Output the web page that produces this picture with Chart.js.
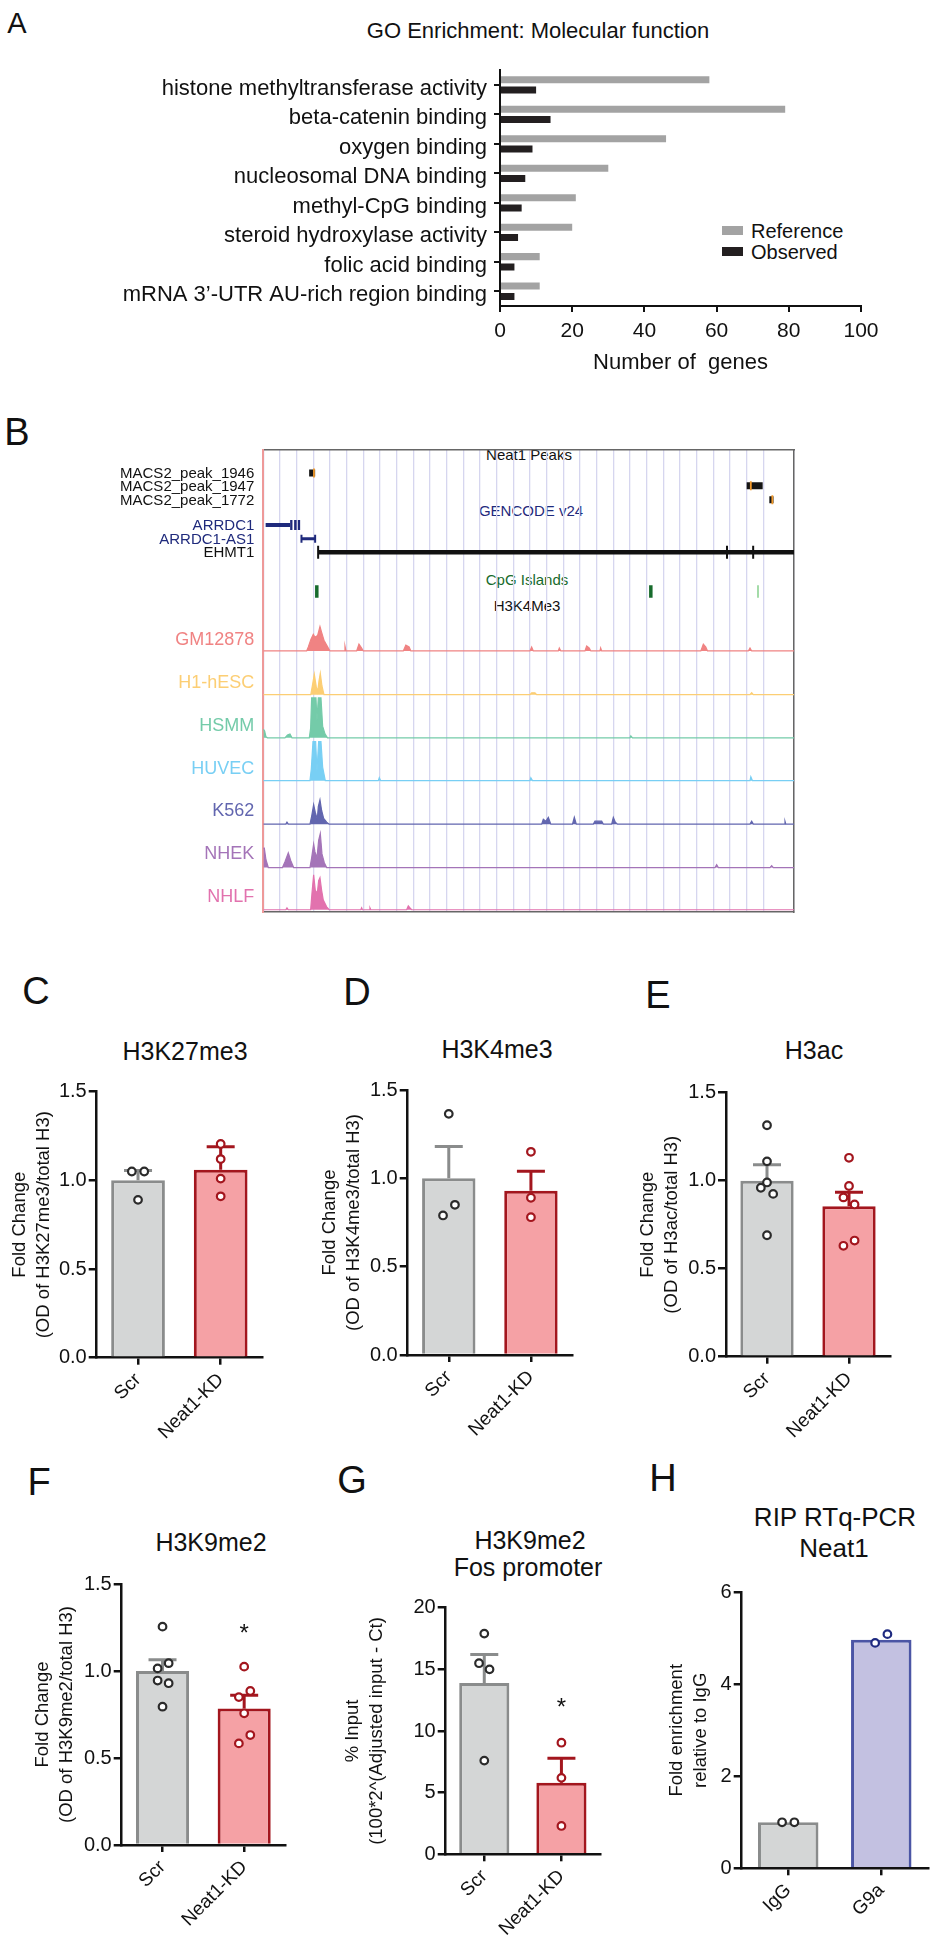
<!DOCTYPE html>
<html>
<head>
<meta charset="utf-8">
<script src="https://cdn.jsdelivr.net/npm/chart.js@4.4.1/dist/chart.umd.min.js"></script>
<style>
  body { margin: 0; background: #fff; }
  #page { position: relative; width: 934px; height: 1950px; overflow: hidden; font-family: "Liberation Sans", Arial, Helvetica, sans-serif; color: #111; }
  .t { position: absolute; white-space: nowrap; line-height: 1; }
  .sq { position: absolute; }
  canvas { position: absolute; }
</style>
</head>
<body>
<div id="page"></div>
<script>
// ---- A: GO enrichment ----
const goTerms = ["histone methyltransferase activity", "beta-catenin binding", "oxygen binding",
  "nucleosomal DNA binding", "methyl-CpG binding", "steroid hydroxylase activity",
  "folic acid binding", "mRNA 3\u2019-UTR AU-rich region binding"];
const goReference = [58, 79, 46, 30, 21, 20, 11, 11];
const goObserved = [10, 14, 9, 7, 6, 5, 4, 4];

// ---- B: genome browser (positions in grid units, 0 = left edge of view) ----
const peakNames = ["MACS2_peak_1946", "MACS2_peak_1947", "MACS2_peak_1772"];
const peakStart = [2.75, 29.0, 30.36];
const peakEnd = [3.11, 29.96, 30.61];
const peakSummit = [3.04, 29.25, 30.54];
const geneNames = ["ARRDC1", "ARRDC1-AS1", "EHMT1"];
const geneStart = [0.14, 2.29, 3.29];
const geneEnd = [1.61, 3.11, 31.84];
const arrdc1Exons = [[1.61, 1.75], [1.85, 2.0], [2.07, 2.21]];
const ehmt1Marks = [3.29, 27.82, 29.39];
const cpgIslands = [3.21, 23.25, 29.68];
const cellLines = ["GM12878", "H1-hESC", "HSMM", "HUVEC", "K562", "NHEK", "NHLF"];
// H3K4me3 signal, [position, height]
const gm12878Signal = [[0,0],[2.6,0],[2.7,4],[2.86,12],[3.0,17],[3.1,14],[3.26,16],[3.4,25],[3.5,19],[3.64,11],[3.8,6],[4.0,0],
  [4.85,0],[4.9,5],[4.96,0],[5.6,0],[5.74,7],[5.9,3],[6.0,0],[8.4,0],[8.55,6],[8.75,4],[8.85,0],[16.0,0],[16.1,4],[16.2,0],
  [17.7,0],[17.76,3],[17.85,0],[19.3,0],[19.4,5],[19.55,3],[19.65,0],[20.2,0],[20.24,3],[20.3,0],[26.25,0],[26.4,7],[26.55,4],
  [26.65,0],[29.1,0],[29.2,3],[29.3,0],[31.84,0]];
const h1hescSignal = [[0,0],[2.85,0],[2.95,10],[3.06,21],[3.18,8],[3.26,3],[3.34,14],[3.42,22],[3.52,9],[3.64,0],
  [16.0,0],[16.1,2],[16.3,2],[16.4,0],[29.2,0],[29.3,2],[29.4,0],[31.84,0]];
const hsmmSignal = [[0,9],[0.08,7],[0.16,1],[0.25,0],[1.3,0],[1.45,3],[1.6,4],[1.72,0],[2.76,0],[2.84,10],[2.9,41],[3.16,41],
  [3.22,18],[3.3,41],[3.46,41],[3.56,12],[3.7,4],[3.85,0],[22.0,0],[22.05,2],[22.15,0],[31.84,0]];
const huvecSignal = [[0,0],[2.8,0],[2.88,12],[2.98,40],[3.14,40],[3.22,10],[3.32,40],[3.46,40],[3.56,14],[3.72,0],
  [6.9,0],[6.96,3],[7.04,0],[16.0,0],[16.05,3],[16.15,0],[29.2,0],[29.25,4],[29.35,0],[31.84,0]];
const k562Signal = [[0,0],[1.35,0],[1.42,2],[1.5,0],[2.8,0],[2.9,8],[3.02,20],[3.12,12],[3.24,5],[3.3,18],[3.4,25],[3.5,14],
  [3.62,6],[3.8,2],[3.95,0],[16.7,0],[16.8,5],[16.95,3],[17.1,7],[17.25,0],[18.55,0],[18.66,7],[18.78,0],[19.8,0],[19.9,3],
  [20.3,3],[20.4,0],[20.9,0],[21.0,7],[21.12,2],[21.25,0],[29.2,0],[29.3,3],[29.4,0],[31.25,0],[31.3,3],[31.35,0],[31.84,0]];
const nhekSignal = [[0,20],[0.06,20],[0.16,8],[0.3,0],[1.15,0],[1.3,6],[1.5,15],[1.65,7],[1.82,0],[2.8,0],[2.9,10],[3.02,24],
  [3.1,16],[3.22,10],[3.32,28],[3.42,35],[3.52,14],[3.66,5],[3.8,0],[27.1,0],[27.2,3],[27.3,0],[30.4,0],[30.5,2],[30.6,0],[31.84,0]];
const nhlfSignal = [[0,0],[1.35,0],[1.42,2],[1.5,0],[2.84,0],[2.92,17],[3.02,36],[3.12,20],[3.24,17],[3.32,30],[3.4,33],[3.5,20],
  [3.6,10],[3.8,3],[3.95,0],[5.85,0],[5.9,2],[5.95,0],[6.35,0],[6.4,2],[6.45,0],[8.6,0],[8.7,4],[8.8,2],[8.9,0],[31.84,0]];

// ---- C-H: western / ChIP / RIP bar panels ----
const kdGroups = ["Scr", "Neat1-KD"];
const ripGroups = ["IgG", "G9a"];
const h3k27Mean = [1.0, 1.06], h3k27Err = [0.055, 0.13];
const h3k27Scr = [1.05, 1.05, 0.89], h3k27Kd = [1.205, 1.12, 1.01, 0.91];
const h3k4Mean = [1.0, 0.93], h3k4Err = [0.18, 0.11];
const h3k4Scr = [1.365, 0.79, 0.85], h3k4Kd = [1.15, 0.89, 0.78];
const h3acMean = [1.0, 0.855], h3acErr = [0.09, 0.08];
const h3acScr = [1.315, 1.11, 0.99, 0.96, 0.925, 0.69], h3acKd = [1.13, 0.97, 0.905, 0.865, 0.63, 0.66];
const h3k9Mean = [1.0, 0.785], h3k9Err = [0.065, 0.075];
const h3k9Scr = [1.255, 1.045, 1.015, 0.945, 0.93, 0.795], h3k9Kd = [1.025, 0.885, 0.85, 0.757, 0.632, 0.584];
const fosMean = [13.9, 5.8], fosErr = [2.3, 2.0];
const fosScr = [17.9, 15.5, 15.0, 7.6], fosKd = [9.05, 6.2, 2.3];
const ripMean = [1.0, 4.97], ripErr = [0, 0];
const ripIgg = [1.0, 1.0], ripG9a = [4.9, 5.09];

const FONT = '"Liberation Sans", Arial, Helvetica, sans-serif';
Chart.defaults.font.family = FONT;
Chart.defaults.color = "#111";
Chart.defaults.animation = false;
Chart.defaults.events = [];
Chart.defaults.plugins.legend.display = false;
Chart.defaults.plugins.tooltip.enabled = false;

const page = document.getElementById("page");

function addText(str, x, y, size, color, align) {
  const d = document.createElement("div");
  d.className = "t";
  d.textContent = str;
  d.style.left = x + "px";
  d.style.top = y + "px";
  d.style.fontSize = size + "px";
  d.style.color = color || "#111";
  const tx = align === "left" ? "0" : align === "right" ? "-100%" : "-50%";
  d.style.transform = "translate(" + tx + ", -50%)";
  page.appendChild(d);
}

function addBox(x, y, w, h, color) {
  const d = document.createElement("div");
  d.className = "sq";
  Object.assign(d.style, { left: x + "px", top: y + "px", width: w + "px", height: h + "px", background: color });
  page.appendChild(d);
}

function addCanvas(left, top, width, height) {
  const c = document.createElement("canvas");
  c.width = width; c.height = height;
  c.style.left = left + "px"; c.style.top = top + "px";
  c.style.width = width + "px"; c.style.height = height + "px";
  page.appendChild(c);
  return c;
}

// panel letters
[["A", 17, 23, 29], ["B", 17, 432, 38], ["C", 36, 991, 38], ["D", 357, 992, 38], ["E", 658, 995, 38],
 ["F", 39, 1482, 38], ["G", 352, 1480, 38], ["H", 663, 1478, 38]].forEach(l => addText(l[0], l[1], l[2], l[3]));

// ================= A =================
addText("GO Enrichment: Molecular function", 538, 31, 22);
addBox(722, 226, 21, 9, "#a3a3a3");
addBox(722, 247, 21, 9, "#231f20");
addText("Reference", 751, 231, 20, "#111", "left");
addText("Observed", 751, 252, 20, "#111", "left");

new Chart(addCanvas(0, 50, 900, 330), {
  type: "bar",
  data: {
    labels: goTerms,
    datasets: [
      { label: "Reference", data: goReference, backgroundColor: "#a3a3a3", barPercentage: 0.68, categoryPercentage: 0.7 },
      { label: "Observed", data: goObserved, backgroundColor: "#231f20", barPercentage: 0.68, categoryPercentage: 0.7 }
    ]
  },
  options: {
    indexAxis: "y",
    responsive: false,
    layout: { padding: { top: 15, right: 39, bottom: 0, left: 0 } },
    scales: {
      x: {
        min: 0, max: 100,
        ticks: { stepSize: 20, font: { size: 21 }, padding: 7 },
        grid: { drawOnChartArea: false, tickLength: 6, color: "#111", lineWidth: 2 },
        border: { color: "#111", width: 2 },
        title: { display: true, text: "Number of  genes", font: { size: 22 }, padding: { top: 0, bottom: 4 } },
        afterFit: s => { s.height = 74; }
      },
      y: {
        ticks: { font: { size: 22 }, padding: 7, autoSkip: false, labelOffset: 4 },
        grid: { drawOnChartArea: false, offset: false, tickLength: 6, color: "#111", lineWidth: 2 },
        border: { color: "#111", width: 2 },
        afterFit: s => { s.width = 500; }
      }
    }
  }
});

// ================= B =================
const cellColors = ["#f08383", "#fcce74", "#74cba9", "#78cff4", "#6266af", "#a474b8", "#e272ae"];
const trackLabels = peakNames.concat(geneNames, cellLines);
const trackLabelColors = ["#111", "#111", "#111", "#1f2a7c", "#1f2a7c", "#111"].concat(cellColors);
const trackLabelSizes = [15, 15, 15, 15, 15, 15, 18, 18, 18, 18, 18, 18, 18];
// layout rows (box-relative, top = 0)
const labelRows = [25, 38.3, 52.7, 78.3, 92.7, 106, 196, 239.3, 284.3, 327.7, 371, 415.3, 459.3];
const peakRows = [23.8, 37, 51.3];
const geneRows = [77.3, 91.3, 105.3];
const cpgRow = 145.7;
const trackBase = [206.7, 251.7, 296, 340, 384.7, 429.3, 472.7];
const cellSignals = [gm12878Signal, h1hescSignal, hsmmSignal, huvecSignal, k562Signal, nhekSignal, nhlfSignal];

const bSets = [];
function seg(x0, x1, y, color, w) {
  bSets.push({ data: [{ x: x0, y }, { x: x1, y }], showLine: true, borderColor: color, borderWidth: w,
    borderCapStyle: "butt", pointRadius: 0 });
}
function marks(xs, ys, color, r, w, order) {
  bSets.push({ data: xs.map((x, i) => ({ x, y: Array.isArray(ys) ? ys[i] : ys })), pointStyle: "line", pointRotation: 90,
    pointRadius: r, pointBorderColor: color, pointBorderWidth: w, order: order || 0 });
}
cellSignals.forEach((sig, i) => {
  bSets.push({
    data: sig.map(p => ({ x: p[0], y: trackBase[i] - p[1] })),
    showLine: true, borderColor: cellColors[i], borderWidth: 1.2, backgroundColor: cellColors[i],
    fill: { value: trackBase[i] }, pointRadius: 0
  });
});
peakStart.forEach((s, i) => seg(s, peakEnd[i], peakRows[i], "#151515", 7));
marks(peakSummit, peakRows, "#f39a2b", 4.5, 1.8, -1);
seg(geneStart[0], geneEnd[0], geneRows[0], "#1f2a7c", 4);
arrdc1Exons.forEach(e => seg(e[0], e[1], geneRows[0], "#1f2a7c", 10));
seg(geneStart[1], geneEnd[1], geneRows[1], "#1f2a7c", 3);
marks([geneStart[1], geneEnd[1]], geneRows[1], "#1f2a7c", 4, 2);
seg(geneStart[2], geneEnd[2], geneRows[2], "#111", 4.5);
marks(ehmt1Marks, geneRows[2], "#111", 6.5, 2);
marks(cpgIslands, cpgRow, ["#176b2c", "#176b2c", "#86d08c"], 6.3, [3.5, 3.5, 1.5]);

addText("Neat1 Peaks", 529, 454, 15);
addText("GENCODE v24", 531, 510, 15, "#1f2a7c");
addText("CpG Islands", 527, 579, 15, "#176b2c");
addText("H3K4Me3", 527, 605, 15);

const viewMax = 31.84;
new Chart(addCanvas(0, 430, 934, 500), {
  type: "scatter",
  data: { datasets: bSets },
  options: {
    responsive: false,
    layout: { padding: { top: 14, right: 140, bottom: 11, left: 0 } },
    scales: {
      x: {
        type: "linear", min: 0, max: viewMax,
        ticks: { display: false, stepSize: 1 },
        grid: { color: "#d6d6ef", lineWidth: 1.3, drawTicks: false },
        border: { color: "#666", width: 1.5 },
        afterFit: s => { s.height = 0; }
      },
      x2: {
        type: "linear", position: "top", min: 0, max: viewMax,
        ticks: { display: false }, grid: { display: false, drawTicks: false },
        border: { color: "#666", width: 1.5 },
        afterFit: s => { s.height = 0; }
      },
      y: {
        type: "linear", min: 0, max: 475, reverse: true,
        afterBuildTicks: s => { s.ticks = labelRows.map(v => ({ value: v })); },
        ticks: {
          autoSkip: false, padding: 9,
          callback: (v, i) => trackLabels[i],
          color: c => trackLabelColors[c.index],
          font: c => ({ family: FONT, size: trackLabelSizes[c.index] })
        },
        grid: { display: false, drawTicks: false },
        border: { color: "#ee9999", width: 2 },
        afterFit: s => { s.width = 263.3; }
      },
      y2: {
        type: "linear", position: "right", min: 0, max: 475,
        ticks: { display: false }, grid: { display: false, drawTicks: false },
        border: { color: "#666", width: 1.5 },
        afterFit: s => { s.width = 0; }
      }
    }
  }
});

// ================= C-H =================
const starPlugin = {
  id: "sigStar",
  afterDatasetsDraw(chart, args, opts) {
    if (!opts.stars || !opts.stars.length) return;
    const { ctx, scales } = chart;
    ctx.save();
    ctx.font = "24px " + FONT;
    ctx.fillStyle = "#111";
    ctx.textAlign = "center";
    ctx.textBaseline = "alphabetic";
    opts.stars.forEach(s => {
      ctx.fillText("*", scales.x.getPixelForValue(s.x), scales.y.getPixelForValue(s.y) + 0.57 * 24);
    });
    ctx.restore();
  }
};

const GREY = { fill: "#d4d6d6", edge: "#8a8c8c", dot: "#2b2b2b" };
const RED = { fill: "#f5a1a5", edge: "#a3161e", dot: "#a3161e" };
const BLUE = { fill: "#c3c1e1", edge: "#4b55a5", dot: "#1f2a80" };

function barPanel(p) {
  const [aL, aT, aR, aB] = p.area;
  const left = Math.round(p.titleX - 20), top = Math.round(aT - 25);
  const width = Math.round(aR + 4) - left, height = Math.round(aB + 115) - top;
  const datasets = [{
    type: "bar",
    data: p.means.map((m, i) => ({ x: i, y: m })),
    backgroundColor: p.colors.map(c => c.fill),
    borderColor: p.colors.map(c => c.edge),
    borderWidth: 3, barPercentage: 0.65, categoryPercentage: 1, order: 3
  }];
  p.means.forEach((m, i) => {
    if (p.errs[i] > 0) {
      datasets.push({
        type: "line", data: [{ x: i, y: m }, { x: i, y: m + p.errs[i] }],
        borderColor: p.colors[i].edge, borderWidth: 3, borderCapStyle: "butt",
        pointStyle: "line", pointRadius: [0, 14], pointBorderColor: p.colors[i].edge, pointBorderWidth: 3, order: 2
      });
    }
    datasets.push({
      type: "scatter",
      data: p.points[i].map((v, k) => ({ x: i + p.jitter[i][k], y: v })),
      pointStyle: "circle", pointRadius: 3.8, pointBorderWidth: 2.2,
      pointBorderColor: p.colors[i].dot, pointBackgroundColor: "#fff", order: 1
    });
  });
  new Chart(addCanvas(left, top, width, height), {
    type: "bar",
    data: { datasets },
    options: {
      responsive: false,
      layout: { padding: { left: 0, top: aT - top, right: left + width - aR, bottom: 0 } },
      plugins: { sigStar: { stars: p.stars || [] } },
      scales: {
        x: {
          type: "linear", min: -0.5, max: 1.5, offset: false,
          afterBuildTicks: s => { s.ticks = p.groups.map((g, i) => ({ value: i })); },
          ticks: { callback: (v, i) => p.groups[i], minRotation: 45, maxRotation: 45, autoSkip: false,
            font: { size: 19 }, padding: 4 },
          grid: { drawOnChartArea: false, offset: false, tickLength: 7, lineWidth: 2.5, color: "#111" },
          border: { color: "#111", width: 2.5 },
          afterFit: s => { s.height = top + height - aB; }
        },
        y: {
          min: 0, max: p.yMax,
          ticks: { stepSize: p.yStep, callback: v => p.fmt(v), font: { size: 20 }, padding: 2 },
          grid: { drawOnChartArea: false, tickLength: 8, lineWidth: 2.5, color: "#111" },
          border: { color: "#111", width: 2.5 },
          title: { display: true, text: p.yTitle, font: { size: 18.5, lineHeight: 1.3 }, padding: { top: 8, bottom: 0 } },
          afterFit: s => { s.width = aL - left; }
        }
      }
    },
    plugins: [starPlugin]
  });
}

const oneDec = v => v.toFixed(1);
const whole = v => String(v);

addText("H3K27me3", 185, 1051, 25);
barPanel({ area: [96.7, 1091.7, 275, 1357.7], titleX: 20, groups: kdGroups, colors: [GREY, RED],
  means: h3k27Mean, errs: h3k27Err, points: [h3k27Scr, h3k27Kd],
  jitter: [[-0.075, 0.075, 0], [0, 0, 0, 0]], yMax: 1.5, yStep: 0.5, fmt: oneDec,
  yTitle: ["Fold Change", "(OD of H3K27me3/total H3)"] });

addText("H3K4me3", 497, 1049, 25);
barPanel({ area: [407.7, 1090, 585, 1355], titleX: 330, groups: kdGroups, colors: [GREY, RED],
  means: h3k4Mean, errs: h3k4Err, points: [h3k4Scr, h3k4Kd],
  jitter: [[0, -0.07, 0.075], [0, 0, 0]], yMax: 1.5, yStep: 0.5, fmt: oneDec,
  yTitle: ["Fold Change", "(OD of H3K4me3/total H3)"] });

addText("H3ac", 814, 1050, 25);
barPanel({ area: [726, 1092.7, 903.3, 1356.7], titleX: 648, groups: kdGroups, colors: [GREY, RED],
  means: h3acMean, errs: h3acErr, points: [h3acScr, h3acKd],
  jitter: [[0, 0, 0, -0.075, 0.075, 0], [0, 0, -0.068, 0.068, -0.068, 0.068]], yMax: 1.5, yStep: 0.5, fmt: oneDec,
  yTitle: ["Fold Change", "(OD of H3ac/total H3)"] });

addText("H3K9me2", 211, 1542, 25);
barPanel({ area: [121.7, 1584, 298.3, 1845], titleX: 43.3, groups: kdGroups, colors: [GREY, RED],
  means: h3k9Mean, errs: h3k9Err, points: [h3k9Scr, h3k9Kd],
  jitter: [[0, 0.075, -0.06, -0.06, 0.075, 0], [0, 0.075, -0.065, 0, 0.075, -0.065]], yMax: 1.5, yStep: 0.5, fmt: oneDec,
  yTitle: ["Fold Change", "(OD of H3K9me2/total H3)"], stars: [{ x: 1, y: 1.25 }] });

addText("H3K9me2", 530, 1540, 25);
addText("Fos promoter", 528, 1567, 25);
barPanel({ area: [445.7, 1607.7, 613.3, 1854.3], titleX: 353.3, groups: kdGroups, colors: [GREY, RED],
  means: fosMean, errs: fosErr, points: [fosScr, fosKd],
  jitter: [[0, -0.068, 0.068, 0], [0, 0, 0]], yMax: 20, yStep: 5, fmt: whole,
  yTitle: ["% Input", "(100*2^(Adjusted input - Ct)"], stars: [{ x: 1, y: 12.4 }] });

addText("RIP RTq-PCR", 835, 1517, 26);
addText("Neat1", 834, 1548, 26);
barPanel({ area: [741.7, 1592.3, 930, 1868.3], titleX: 676.7, groups: ripGroups, colors: [GREY, BLUE],
  means: ripMean, errs: ripErr, points: [ripIgg, ripG9a],
  jitter: [[-0.066, 0.066], [-0.066, 0.066]], yMax: 6, yStep: 2, fmt: whole,
  yTitle: ["Fold enrichment", "relative to IgG"] });
</script>
</body>
</html>
